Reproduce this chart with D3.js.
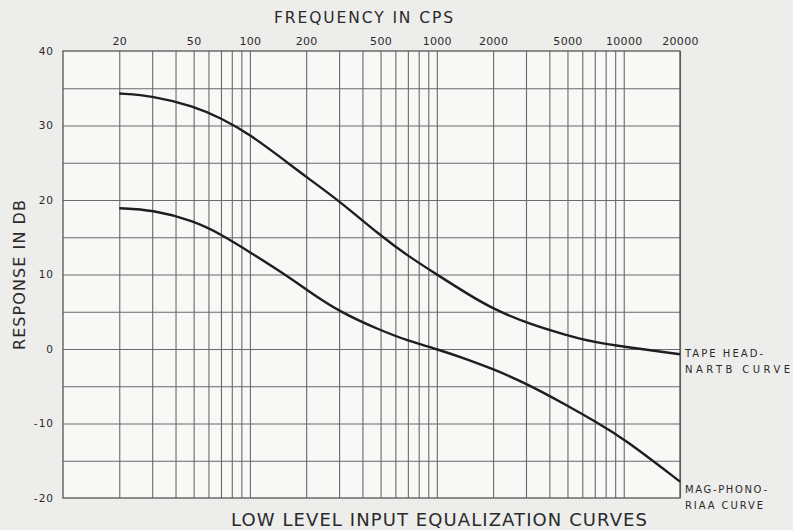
<!DOCTYPE html>
<html>
<head>
<meta charset="utf-8">
<script src="https://cdn.jsdelivr.net/npm/d3@7/dist/d3.min.js"></script>
<style>
  html, body { margin: 0; padding: 0; background: #ededeb; }
  svg { display: block; }
  text { font-family: "DejaVu Sans", sans-serif; fill: #2a2a2a; }
</style>
</head>
<body>
<div class="container"></div>
<script>
var W = 793, H = 530;
var LEFT = 63, RIGHT = 680, TOP = 51, BOTTOM = 498;

// frequency (cps) of each read point
var freqs = [20, 30, 50, 70, 100, 150, 200, 300, 500, 700, 1000, 1500, 2000, 3000, 5000, 7000, 10000, 20000];
// response in db
var nartb = [34.3, 34.0, 32.6, 31.0, 28.8, 25.5, 23.1, 19.9, 15.2, 12.5, 10.0, 7.2, 5.4, 3.5, 1.8, 0.9, 0.3, -0.7];
var riaa  = [18.9, 18.7, 17.2, 15.4, 13.0, 10.2, 8.0, 5.0, 2.5, 1.1, 0.0, -1.5, -2.7, -4.6, -7.6, -9.7, -12.0, -17.8];

var freqTicks = [20, 50, 100, 200, 500, 1000, 2000, 5000, 10000, 20000];
var freqGrid = [20, 30, 40, 50, 60, 70, 80, 90, 100, 200, 300, 400, 500, 600, 700, 800, 900,
                1000, 2000, 3000, 4000, 5000, 6000, 7000, 8000, 9000, 10000, 20000];
var dbTicks = [-20, -10, 0, 10, 20, 30, 40];
var dbGrid = [-15, -10, -5, 0, 5, 10, 15, 20, 25, 30, 35];

var x = d3.scaleLog().domain([10, 20000]).range([LEFT, RIGHT]);
var y = d3.scaleLinear().domain([-20, 40]).range([BOTTOM, TOP]);

var draw = function(){
	var svg = d3.select(".container").append("svg")
		.attr("width", W)
		.attr("height", H);

	svg.append("rect")
		.attr("x", LEFT).attr("y", TOP)
		.attr("width", RIGHT - LEFT).attr("height", BOTTOM - TOP)
		.attr("fill", "#f8f8f6");

	// vertical grid
	var gx = svg.append("g")
		.attr("transform", "translate(0," + BOTTOM + ")")
		.call(d3.axisBottom(x).tickValues(freqGrid).tickSize(-(BOTTOM - TOP)).tickFormat(""));
	gx.select(".domain").remove();
	gx.selectAll("line").attr("stroke", "#6a6a6a").attr("stroke-width", 1.1);

	// horizontal grid
	var gy = svg.append("g")
		.attr("transform", "translate(" + LEFT + ",0)")
		.call(d3.axisLeft(y).tickValues(dbGrid).tickSize(-(RIGHT - LEFT)).tickFormat(""));
	gy.select(".domain").remove();
	gy.selectAll("line").attr("stroke", "#6a6a6a").attr("stroke-width", 1.1);

	// frame
	svg.append("rect")
		.attr("x", LEFT).attr("y", TOP)
		.attr("width", RIGHT - LEFT).attr("height", BOTTOM - TOP)
		.attr("fill", "none")
		.attr("stroke", "#555")
		.attr("stroke-width", 1.3);

	// top frequency labels
	var top = svg.append("g")
		.attr("transform", "translate(0,45)")
		.call(d3.axisTop(x).tickValues(freqTicks).tickSize(0).tickPadding(0).tickFormat(function(d){ return String(d); }));
	top.select(".domain").remove();
	top.selectAll("text")
		.attr("font-size", 11)
		.attr("letter-spacing", 0.3)
		.attr("fill", "#333")
		.style("font-family", "'DejaVu Sans', sans-serif");

	// left db labels
	var left = svg.append("g")
		.attr("transform", "translate(54,0)")
		.call(d3.axisLeft(y).tickValues(dbTicks).tickSize(0).tickPadding(0).tickFormat(function(d){ return String(d); }));
	left.select(".domain").remove();
	left.selectAll("text")
		.attr("font-size", 10.5)
		.attr("letter-spacing", 1)
		.attr("fill", "#333")
		.style("font-family", "'DejaVu Sans', sans-serif");

	// curves
	var line = d3.line()
		.x(function(d){ return x(d[0]); })
		.y(function(d){ return y(d[1]); })
		.curve(d3.curveBasis);

	[nartb, riaa].forEach(function(series){
		svg.append("path")
			.datum(freqs.map(function(f, i){ return [f, series[i]]; }))
			.attr("d", line)
			.attr("fill", "none")
			.attr("stroke", "#1e1e1e")
			.attr("stroke-width", 2.4);
	});

	// titles
	svg.append("text")
		.attr("x", 274).attr("y", 23)
		.attr("font-size", 15.5)
		.attr("textLength", 179).attr("lengthAdjust", "spacing")
		.text("FREQUENCY IN CPS");

	svg.append("text")
		.attr("transform", "translate(25,350) rotate(-90)")
		.attr("font-size", 16)
		.attr("textLength", 150).attr("lengthAdjust", "spacing")
		.text("RESPONSE IN DB");

	svg.append("text")
		.attr("x", 231).attr("y", 526)
		.attr("font-size", 18)
		.attr("textLength", 416).attr("lengthAdjust", "spacing")
		.text("LOW LEVEL INPUT EQUALIZATION CURVES");

	// curve labels
	var labels = [
		{t: "TAPE HEAD-", y: 357, w: 78},
		{t: "NARTB CURVE", y: 373, w: 105},
		{t: "MAG-PHONO-", y: 493, w: 82},
		{t: "RIAA CURVE", y: 509, w: 78}
	];
	labels.forEach(function(l){
		svg.append("text")
			.attr("x", 685).attr("y", l.y)
			.attr("font-size", 10)
			.attr("textLength", l.w).attr("lengthAdjust", "spacing")
			.text(l.t);
	});
};

window.onload = draw;
</script>
</body>
</html>
